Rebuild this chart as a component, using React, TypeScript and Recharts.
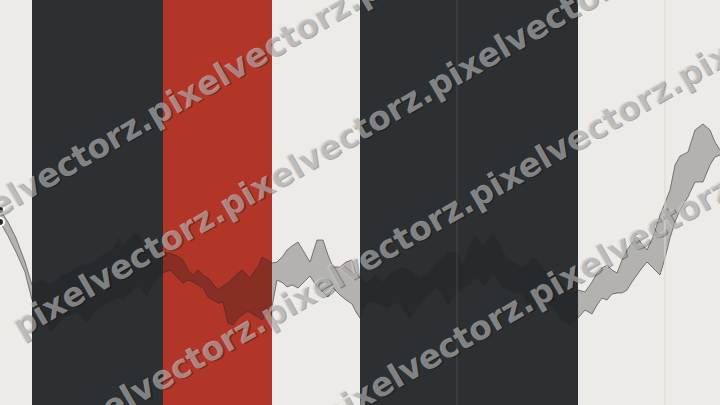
import React from 'react';
import { ComposedChart, Area, XAxis, YAxis, ReferenceArea, ReferenceLine } from 'recharts';

// session time (x) and the upper / lower edge of the price band
const sessions = [
  0, 8, 16, 25, 32, 38, 43, 50, 57, 63, 70, 77, 82, 87, 92, 97, 103, 108, 113, 118, 123, 128, 133, 138, 143, 147, 152, 157,
  163, 170, 177, 183, 188, 193, 198, 203, 208, 213, 218, 223, 228, 233, 238, 242, 246, 250, 254, 258, 262, 267, 272,
  277, 283, 287, 292, 298, 304, 310, 317, 323, 328, 333, 340, 346, 352, 356, 360,
  367, 375, 383, 387, 392, 397, 402, 410, 415, 420, 427, 433, 437, 443, 448, 452, 457, 463, 470, 475, 480, 483, 488,
  493, 500, 503, 507, 513, 518, 523, 528, 533, 538, 542, 547, 552, 560, 565, 570, 578,
  585, 592, 597, 602, 607, 612, 617, 622, 627, 632, 637, 642, 647, 653, 660, 665, 670, 675, 680, 688, 695, 703, 710, 715, 720,
];
const upper = [
  195, 183, 167, 143, 120, 123, 125, 120, 125, 130, 133, 137, 141, 139, 143, 145, 150, 152, 155, 167, 159, 165, 170, 171, 162, 155, 160, 157,
  152, 152, 149, 145, 135, 130, 135, 130, 127, 121, 115, 119, 122, 127, 132, 135, 131, 127, 133, 138, 148, 145, 142,
  143, 149, 155, 159, 163, 153, 143, 165, 165, 150, 138, 138, 143, 145, 133, 127,
  122, 130, 123, 127, 133, 135, 138, 135, 130, 127, 130, 137, 143, 148, 153, 153, 152, 140, 160, 170, 163, 160, 165,
  170, 160, 153, 147, 143, 140, 137, 143, 148, 143, 138, 133, 127, 123, 118, 113, 115,
  113, 123, 132, 137, 140, 135, 132, 145, 155, 162, 168, 161, 155, 168, 190, 202, 215, 240, 249, 253, 275, 281, 275, 263, 255,
];
const lower = [
  183, 169, 153, 133, 105, 100, 92, 73, 80, 87, 90, 93, 87, 82, 90, 95, 99, 102, 105, 108, 105, 111, 115, 119, 113, 109, 120, 125,
  132, 135, 128, 122, 125, 123, 120, 117, 108, 105, 102, 103, 82, 80, 87, 90, 93, 93, 90, 88, 85, 93, 98,
  125, 122, 118, 120, 117, 123, 129, 118, 113, 108, 117, 110, 105, 101, 93, 87,
  103, 103, 99, 97, 100, 103, 97, 87, 95, 100, 110, 115, 117, 109, 100, 107, 113, 117, 120, 127, 125, 120, 123,
  130, 123, 117, 115, 113, 112, 110, 100, 93, 100, 107, 102, 97, 87, 83, 80, 87,
  95, 91, 100, 107, 105, 111, 112, 112, 115, 123, 130, 137, 143, 137, 130, 147, 167, 183, 195, 208, 223, 223, 240, 248, 250,
];

// background periods
const periodStart = [0, 32, 163, 272, 360, 578];
const periodEnd = [32, 163, 272, 360, 578, 720];
const periodColor = ['#edebe7', '#2d3033', '#b23628', '#edebe7', '#2d3033', '#edebe7'];
const markers = [457, 665];

const data = sessions.map((t, i) => ({ t, band: [lower[i], upper[i]] }));

const WATERMARK = 'pixelvectorz.'.repeat(5);
const rows = [
  { x: -53, c: 207 },
  { x: 20, c: 341 },
  { x: 61, c: 475 },
  { x: 121, c: 609 },
];

function Watermark() {
  const k = Math.tan(Math.PI / 6);
  return (
    <svg width={720} height={405} style={{ position: 'absolute', left: 0, top: 0, pointerEvents: 'none' }}>
      {rows.map((r, i) => {
        const y = r.c - k * r.x + 9;
        return (
          <g key={i} transform={`rotate(-30 ${r.x} ${y})`} fontFamily="DejaVu Sans" fontWeight="bold" fontSize={33}>
            <text x={r.x + 1.2} y={y + 1.5} fill="rgba(0,0,0,0.28)">{WATERMARK}</text>
            <text x={r.x} y={y} fill="rgba(205,205,205,0.58)">{WATERMARK}</text>
          </g>
        );
      })}
    </svg>
  );
}

export default function App() {
  return (
    <div style={{ position: 'absolute', left: 0, top: 0, width: 720, height: 405, overflow: 'hidden', background: '#edebe7' }}>
      <ComposedChart width={720} height={405} data={data} margin={{ top: 0, right: 0, bottom: 0, left: 0 }}>
        <XAxis dataKey="t" type="number" domain={[0, 720]} hide />
        <YAxis type="number" domain={[0, 405]} hide />
        {periodStart.map((s, i) => (
          <ReferenceArea key={i} x1={s} x2={periodEnd[i]} fill={periodColor[i]} fillOpacity={1} stroke="none" ifOverflow="visible" />
        ))}
        {markers.map((m, i) => (
          <ReferenceLine key={i} x={m} stroke={i === 0 ? '#45484b' : '#dcd9d4'} strokeWidth={1} />
        ))}
        <Area
          type="linear"
          dataKey="band"
          fill="#1a1a1a"
          fillOpacity={0.27}
          stroke="#2a2a2a"
          strokeOpacity={0.55}
          strokeWidth={1}
          isAnimationActive={false}
        />
      </ComposedChart>
      <Watermark />
    </div>
  );
}
